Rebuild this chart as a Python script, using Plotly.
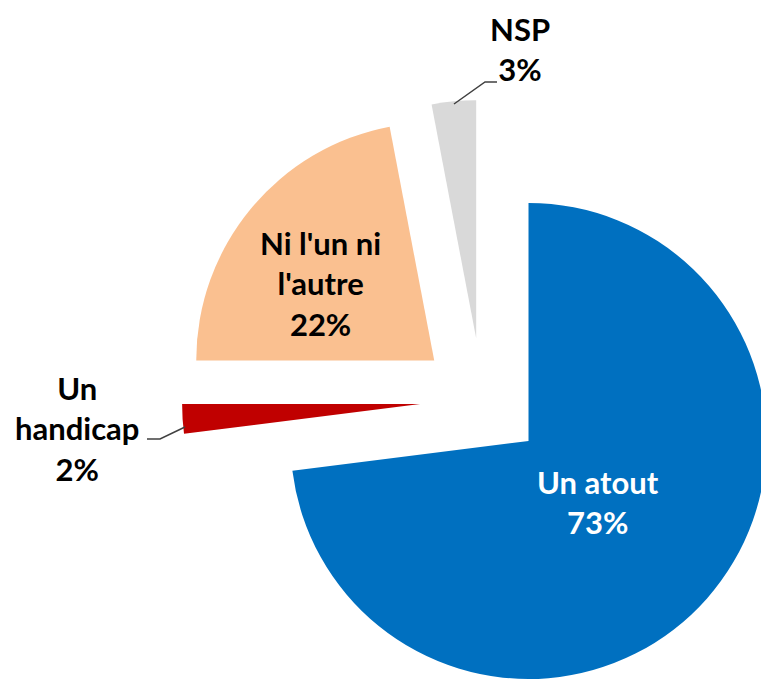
import math
import plotly.graph_objects as go

# ---- data ----
labels = ["Un atout", "Un handicap", "Ni l'un ni l'autre", "NSP"]
label_lines = ["Un atout", "Un<br>handicap", "Ni l'un ni<br>l'autre", "NSP"]
values = [73, 2, 22, 3]
colors = ["#0070C0", "#C00000", "#FAC090", "#D9D9D9"]
text_colors = ["#FFFFFF", "#000000", "#000000", "#000000"]

# ---- layout constants (screen pixels) ----
W, H = 769, 680
OX, OY = 8, 8           # page offset of the figure
CX, CY = 482.0, 400.0   # pie centre before explosion
R = 238.0               # radius
P = 62.0                # explosion distance
FONT = "Lato"
FS = 31
# label centres (screen px)
label_pos = [(598, 502), (77, 428), (320, 283), (520, 49)]


def px(x):
    return (x - OX) / W


def py(y):
    return 1 - (y - OY) / H


total = sum(values)
fig = go.Figure()
cum = 0.0
for i, (lab, v) in enumerate(zip(labels, values)):
    start = cum / total * 360.0
    mid = (cum + v / 2.0) / total * 360.0
    cum += v
    a = math.radians(mid)
    cx = CX + P * math.sin(a)
    cy = CY - P * math.cos(a)
    x0, x1 = max(0, px(cx - R)), min(1, px(cx + R))
    y0, y1 = max(0, py(cy + R)), min(1, py(cy - R))
    fig.add_trace(go.Pie(
        labels=[lab, "_rest"],
        values=[v, total - v],
        textinfo="none",
        marker=dict(colors=[colors[i], "rgba(0,0,0,0)"], line=dict(width=0)),
        sort=False,
        direction="clockwise",
        rotation=start,
        domain=dict(x=[x0, x1], y=[y0, y1]),
        hoverinfo="skip",
        showlegend=False,
    ))

for i, (x, y) in enumerate(label_pos):
    fig.add_annotation(
        x=px(x), y=py(y), xref="paper", yref="paper",
        text=f"<b>{label_lines[i]}<br>{values[i]}%</b>", showarrow=False,
        font=dict(family=FONT, size=FS, color=text_colors[i]),
        xanchor="center", yanchor="middle", align="center",
    )


def path(pts):
    return "M " + " L ".join(f"{px(x)},{py(y)}" for x, y in pts)


for pts in ([(147, 439), (160, 439), (185, 427)], [(497, 82), (485, 82), (454, 104)]):
    fig.add_shape(type="path", xref="paper", yref="paper", path=path(pts),
                  line=dict(color="#404040", width=1.5))

fig.update_layout(
    width=W, height=H,
    margin=dict(l=0, r=0, t=0, b=0),
    paper_bgcolor="white", plot_bgcolor="white",
)
fig.write_html("out.html")
